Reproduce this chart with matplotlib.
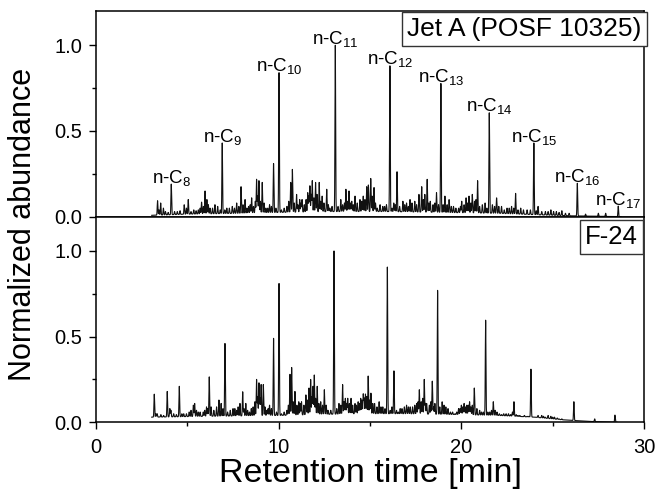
import numpy as np
import matplotlib
matplotlib.use('Agg')
import matplotlib.pyplot as plt
from matplotlib.ticker import MultipleLocator

plt.rcParams['font.family'] = ['Liberation Sans', 'DejaVu Sans']
plt.rcParams['mathtext.fontset'] = 'custom'
plt.rcParams['mathtext.rm'] = 'Liberation Sans'
plt.rcParams['mathtext.it'] = 'Liberation Sans:italic'
plt.rcParams['mathtext.bf'] = 'Liberation Sans:bold'

# ---------------- data ----------------
# Jet A (POSF 10325): main peak retention times [min] and normalized heights
jet_peak_t = [3.37, 3.54, 3.69, 4.12, 4.45, 4.83, 5.05, 5.35, 5.60, 5.78,
              5.97, 6.07, 6.24, 6.51, 6.66, 6.91, 7.16, 7.46, 7.70, 7.94,
              8.16, 8.35, 8.52, 8.79, 8.92, 9.10, 9.30, 9.50, 9.72, 10.02,
              10.30, 10.66, 10.75, 10.98, 11.15, 11.28, 11.59, 11.71, 11.84, 12.02,
              12.22, 12.38, 12.63, 12.80, 13.10, 13.40, 13.60, 13.68, 13.85, 14.00,
              14.18, 14.45, 14.63, 14.82, 14.91, 15.04, 15.22, 15.40, 15.70, 15.90,
              16.09, 16.30, 16.48, 16.80, 17.00, 17.19, 17.45, 17.68, 17.83, 18.00,
              18.13, 18.30, 18.64, 18.88, 19.10, 19.33, 19.57, 19.85, 20.02, 20.26,
              20.42, 20.60, 20.89, 21.15, 21.30, 21.53, 21.70, 21.93, 22.20, 22.50,
              22.75, 22.97, 23.25, 23.60, 23.97, 24.20, 24.60, 24.90, 25.20, 25.50,
              25.90, 26.35, 26.80, 27.50, 27.90, 28.59]
jet_peak_h = [0.093, 0.08, 0.05, 0.19, 0.03, 0.07, 0.10, 0.04, 0.04, 0.085,
              0.15, 0.10, 0.05, 0.07, 0.06, 0.43, 0.05, 0.06, 0.08, 0.175,
              0.10, 0.06, 0.11, 0.218, 0.21, 0.20, 0.05, 0.07, 0.31, 0.84,
              0.05, 0.20, 0.276, 0.13, 0.10, 0.10, 0.14, 0.18, 0.21, 0.20,
              0.20, 0.12, 0.16, 0.05, 1.00, 0.10, 0.08, 0.16, 0.15, 0.09,
              0.12, 0.10, 0.12, 0.175, 0.185, 0.223, 0.17, 0.05, 0.06, 0.07,
              0.88, 0.08, 0.262, 0.09, 0.08, 0.10, 0.09, 0.13, 0.175, 0.13,
              0.218, 0.09, 0.14, 0.777, 0.12, 0.10, 0.06, 0.05, 0.09, 0.11,
              0.12, 0.13, 0.21, 0.07, 0.08, 0.606, 0.07, 0.11, 0.06, 0.05,
              0.06, 0.136, 0.05, 0.04, 0.43, 0.06, 0.03, 0.04, 0.03, 0.035,
              0.02, 0.195, 0.015, 0.02, 0.02, 0.062]
# Jet A: small unresolved peaks between the main ones
jet_minor_t = [3.45, 3.80, 3.95, 4.30, 4.60, 4.95, 5.20, 5.48, 5.70, 5.88,
               6.15, 6.38, 6.80, 7.05, 7.30, 7.58, 7.82, 8.05, 8.26, 8.44,
               8.62, 8.72, 8.85, 9.00, 9.20, 9.40, 9.60, 9.85, 10.15, 10.45,
               10.55, 10.85, 11.05, 11.22, 11.40, 11.50, 11.65, 11.78, 11.93, 12.10,
               12.30, 12.48, 12.72, 12.92, 13.25, 13.50, 13.77, 13.93, 14.08, 14.30,
               14.55, 14.72, 15.12, 15.30, 15.55, 15.80, 16.20, 16.38, 16.62, 16.90,
               17.10, 17.30, 17.55, 17.92, 18.22, 18.45, 18.55, 18.75, 19.00, 19.22,
               19.45, 19.70, 19.95, 20.15, 20.34, 20.52, 20.72, 20.80, 21.00, 21.40,
               21.82, 22.05, 22.35, 22.62, 22.87, 23.10, 23.40, 23.78, 24.10, 24.40,
               24.75, 25.05, 25.35, 25.70]
jet_minor_h = [0.04, 0.03, 0.025, 0.03, 0.035, 0.05, 0.03, 0.035, 0.05, 0.06,
               0.07, 0.05, 0.04, 0.04, 0.05, 0.05, 0.06, 0.07, 0.05, 0.07,
               0.06, 0.09, 0.12, 0.09, 0.08, 0.05, 0.06, 0.05, 0.04, 0.06,
               0.09, 0.08, 0.07, 0.08, 0.07, 0.10, 0.12, 0.13, 0.11, 0.13,
               0.09, 0.08, 0.07, 0.06, 0.06, 0.07, 0.09, 0.08, 0.07, 0.08,
               0.09, 0.10, 0.12, 0.08, 0.07, 0.06, 0.05, 0.07, 0.06, 0.07,
               0.06, 0.08, 0.07, 0.10, 0.08, 0.07, 0.08, 0.07, 0.07, 0.07,
               0.06, 0.05, 0.06, 0.07, 0.08, 0.08, 0.09, 0.10, 0.06, 0.05,
               0.06, 0.06, 0.04, 0.05, 0.05, 0.04, 0.04, 0.04, 0.035, 0.03,
               0.03, 0.03, 0.025, 0.02]
jet_base_t = [3.05, 5.0, 8.0, 10.0, 13.0, 16.0, 19.0, 22.0, 24.0, 26.0, 28.75]
jet_base_h = [0.008, 0.015, 0.02, 0.025, 0.03, 0.03, 0.025, 0.02, 0.012, 0.005, 0.0]

# n-alkane labels (Jet A)
alkane_carbons = [8, 9, 10, 11, 12, 13, 14, 15, 16, 17]
alkane_t = [4.12, 6.91, 10.02, 13.10, 16.09, 18.88, 21.53, 23.97, 26.35, 28.59]
alkane_h = [0.19, 0.43, 0.84, 1.00, 0.88, 0.777, 0.606, 0.43, 0.195, 0.062]

# F-24: main peaks
f24_peak_t = [3.19, 3.35, 3.90, 4.04, 4.10, 4.56, 4.80, 5.20, 5.33, 5.40,
              5.70, 5.87, 6.05, 6.20, 6.30, 6.60, 6.73, 6.85, 7.06, 7.20,
              7.50, 7.60, 7.88, 8.03, 8.20, 8.40, 8.60, 8.79, 8.92, 9.04,
              9.16, 9.35, 9.50, 9.72, 10.02, 10.30, 10.62, 10.71, 10.89, 11.10,
              11.25, 11.49, 11.66, 11.75, 11.88, 11.95, 12.11, 12.30, 12.50, 12.70,
              13.03, 13.30, 13.50, 13.65, 13.78, 13.96, 14.18, 14.35, 14.49, 14.63,
              14.75, 14.90, 15.05, 15.25, 15.50, 15.70, 15.95, 16.31, 16.55, 16.75,
              17.00, 17.20, 17.45, 17.55, 17.70, 17.80, 17.97, 18.10, 18.41, 18.55,
              18.70, 18.95, 19.15, 19.40, 19.65, 19.85, 20.00, 20.15, 20.30, 20.45,
              20.60, 20.71, 21.00, 21.10, 21.33, 21.55, 21.75, 21.95, 22.20, 22.45,
              22.70, 22.88, 23.10, 23.30, 23.60, 23.81, 24.00, 24.40, 24.60, 24.90,
              25.10, 25.35, 26.16, 27.30, 28.41]
f24_peak_h = [0.164, 0.05, 0.18, 0.08, 0.07, 0.21, 0.05, 0.07, 0.10, 0.11,
              0.06, 0.06, 0.09, 0.265, 0.09, 0.09, 0.13, 0.11, 0.46, 0.06,
              0.08, 0.08, 0.11, 0.178, 0.11, 0.06, 0.09, 0.25, 0.23, 0.22,
              0.22, 0.07, 0.10, 0.49, 0.81, 0.06, 0.28, 0.32, 0.18, 0.12,
              0.12, 0.16, 0.20, 0.25, 0.21, 0.276, 0.21, 0.12, 0.19, 0.07,
              1.00, 0.11, 0.22, 0.14, 0.14, 0.14, 0.11, 0.12, 0.14, 0.165,
              0.165, 0.27, 0.17, 0.11, 0.12, 0.09, 0.906, 0.30, 0.06, 0.08,
              0.10, 0.09, 0.10, 0.11, 0.19, 0.12, 0.25, 0.11, 0.24, 0.11,
              0.77, 0.12, 0.09, 0.06, 0.05, 0.08, 0.10, 0.11, 0.10, 0.12,
              0.10, 0.20, 0.07, 0.06, 0.596, 0.06, 0.12, 0.06, 0.045, 0.05,
              0.045, 0.12, 0.04, 0.03, 0.035, 0.31, 0.03, 0.04, 0.03, 0.035,
              0.03, 0.02, 0.12, 0.02, 0.042]
# F-24: small unresolved peaks
f24_minor_t = [3.28, 3.55, 3.70, 4.25, 4.40, 4.70, 4.95, 5.10, 5.50, 5.60,
               5.95, 6.12, 6.45, 6.95, 7.35, 7.70, 7.78, 8.10, 8.30, 8.50,
               8.70, 8.85, 8.98, 9.25, 9.42, 9.60, 9.88, 10.15, 10.45, 10.53,
               10.80, 11.00, 11.18, 11.38, 11.57, 11.82, 12.02, 12.20, 12.40, 12.60,
               12.85, 13.18, 13.40, 13.58, 13.72, 13.87, 14.05, 14.26, 14.42, 14.56,
               14.68, 14.82, 14.98, 15.15, 15.38, 15.60, 15.82, 16.10, 16.20, 16.45,
               16.65, 16.88, 17.10, 17.33, 17.63, 17.88, 18.03, 18.25, 18.33, 18.48,
               18.82, 19.05, 19.27, 19.52, 19.75, 19.93, 20.08, 20.22, 20.38, 20.52,
               20.85, 21.20, 21.45, 21.65, 21.85, 22.08, 22.32, 22.58, 22.80, 23.00,
               23.20, 23.45, 23.70, 24.20, 24.50, 24.75, 25.00, 25.25, 25.50]
f24_minor_h = [0.05, 0.045, 0.04, 0.05, 0.045, 0.05, 0.05, 0.06, 0.07, 0.06,
               0.07, 0.08, 0.07, 0.08, 0.07, 0.07, 0.09, 0.08, 0.07, 0.08,
               0.12, 0.15, 0.14, 0.09, 0.08, 0.08, 0.06, 0.05, 0.07, 0.10,
               0.12, 0.10, 0.11, 0.10, 0.13, 0.15, 0.14, 0.11, 0.10, 0.10,
               0.07, 0.08, 0.10, 0.12, 0.11, 0.11, 0.10, 0.10, 0.11, 0.13,
               0.14, 0.15, 0.13, 0.11, 0.09, 0.09, 0.08, 0.07, 0.09, 0.07,
               0.08, 0.09, 0.09, 0.09, 0.12, 0.14, 0.11, 0.10, 0.12, 0.09,
               0.09, 0.10, 0.08, 0.06, 0.06, 0.08, 0.09, 0.09, 0.10, 0.09,
               0.08, 0.06, 0.06, 0.07, 0.07, 0.05, 0.05, 0.05, 0.06, 0.045,
               0.04, 0.04, 0.035, 0.04, 0.035, 0.04, 0.03, 0.025, 0.02]
f24_base_t = [3.05, 6.0, 10.0, 14.0, 17.0, 20.0, 22.0, 24.0, 25.5, 27.0, 28.55]
f24_base_h = [0.03, 0.035, 0.04, 0.05, 0.05, 0.045, 0.04, 0.03, 0.015, 0.005, 0.0]

xticks = [0, 10, 20, 30]
yticks = [0.0, 0.5, 1.0]


def trace(t, peak_t, peak_h, base_t, base_h, sigma=0.018):
    base = np.interp(t, base_t, base_h)
    y = base.copy()
    pb = np.interp(peak_t, base_t, base_h)
    for p, h, b in zip(peak_t, peak_h, pb):
        y = y + max(h - b, 0.0) * np.exp(-0.5 * ((t - p) / sigma) ** 2)
    return y


t_jet = np.arange(jet_base_t[0], jet_base_t[-1], 0.002)
t_f24 = np.arange(f24_base_t[0], f24_base_t[-1], 0.002)
y_jet = trace(t_jet, jet_peak_t + jet_minor_t, jet_peak_h + jet_minor_h,
              jet_base_t, jet_base_h)
y_f24 = trace(t_f24, f24_peak_t + f24_minor_t, f24_peak_h + f24_minor_h,
              f24_base_t, f24_base_h)

# ---------------- figure ----------------
W, H = 658, 495
fig = plt.figure(figsize=(W / 100, H / 100), dpi=100)
left, right = 96, 644
top, mid, bot = 11, 216.7, 422.3
ax1 = fig.add_axes([left / W, 1 - mid / H, (right - left) / W, (mid - top) / H])
ax2 = fig.add_axes([left / W, 1 - bot / H, (right - left) / W, (bot - mid) / H])

for ax in (ax1, ax2):
    ax.set_xlim(0, 30)
    ax.set_ylim(0, 1.2)
    ax.set_yticks(yticks)
    ax.set_yticklabels([f'{v:.1f}' for v in yticks])
    ax.yaxis.set_minor_locator(MultipleLocator(0.25))
    ax.xaxis.set_minor_locator(MultipleLocator(5))
    ax.set_xticks(xticks)
    for s in ax.spines.values():
        s.set_linewidth(1.1)
    ax.tick_params(axis='both', which='major', direction='out', length=5, width=1,
                   labelsize=14.5)
    ax.tick_params(axis='both', which='minor', direction='out', length=3, width=1)
    ax.tick_params(axis='y', pad=5)
    ax.tick_params(axis='x', pad=6)

ax1.tick_params(axis='x', which='both', bottom=False, labelbottom=False)

ax1.plot(t_jet, y_jet, color='#111111', lw=0.8)
ax2.plot(t_f24, y_f24, color='#111111', lw=0.8)

for n, x, h in zip(alkane_carbons, alkane_t, alkane_h):
    ax1.text(x, h + 0.008, f'n-C$_{{{n}}}$', ha='center', va='baseline', fontsize=13.5)

box = dict(boxstyle='square,pad=0.2', fc='white', ec='#333333', lw=1)
ax1.text(0.996, 0.971, 'Jet A (POSF 10325)', transform=ax1.transAxes,
         ha='right', va='top', fontsize=19, bbox=box)
ax2.text(0.989, 0.96, 'F-24', transform=ax2.transAxes,
         ha='right', va='top', fontsize=18.5, bbox=box)

fig.text(23 / W, 1 - 224 / H, 'Normalized abundance', rotation=90,
         ha='center', va='center', fontsize=22)
fig.text((left + right) / 2 / W, 1 - 482 / H, 'Retention time [min]',
         ha='center', va='baseline', fontsize=24.5)

fig.savefig('out.png', dpi=100)
